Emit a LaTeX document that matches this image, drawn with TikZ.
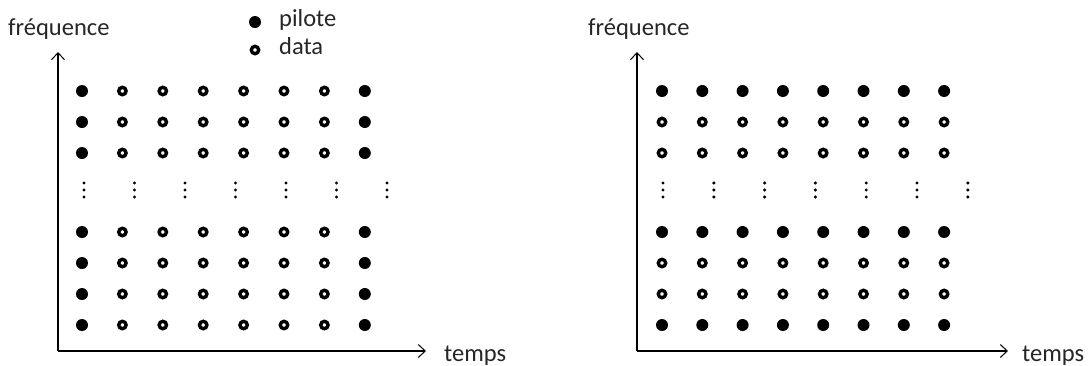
\documentclass[tikz,border=0pt]{standalone}
\usepackage{fontspec}
\setmainfont{Carlito}
\usetikzlibrary{arrows.meta}
\begin{document}
\begin{tikzpicture}[x=1pt,y=-1pt,
  pil/.style={circle,fill=black,inner sep=0pt,minimum size=12pt},
  dat/.style={circle,draw=black,line width=3.4pt,inner sep=0pt,minimum size=7.4pt},
  vd/.style={circle,fill=black,inner sep=0pt,minimum size=3.4pt},
  axis/.style={line width=1.1pt,-{Straight Barb[length=7pt,width=13pt,line width=1pt]}},
  lbl/.style={font=\fontsize{24.5}{27}\selectfont,inner sep=0pt,anchor=base west,text=black!85}]
\useasboundingbox (0,0) rectangle (1090,365);
% ---------- left panel ----------
\coordinate (oL) at (58,351);
\coordinate (yL) at (58,52);
\coordinate (xL) at (426,351);
\draw[axis] (oL) -- (yL);
\draw[axis] (oL) -- (xL);
\node[lbl] (fL) at (8,35) {fréquence};
\node[lbl] (tL) at (444,361) {temps};
% legend
\node[pil] (legP) at (255,22) {};
\node[lbl] (legPt) at (279,26) {pilote};
\node[dat] (legD) at (255,50) {};
\node[lbl] (legDt) at (279,54) {data};
% rows
\foreach \r/\y in {1/91,2/122,3/153,4/232,5/263,6/294,7/325}{
  \foreach \c in {0,...,7}{
    \pgfmathsetmacro{\xx}{82+40.4*\c}
    \ifnum\c=0 \node[pil] (L\r-\c) at (\xx,\y) {};
    \else\ifnum\c=7 \node[pil] (L\r-\c) at (\xx,\y) {};
    \else \node[dat] (L\r-\c) at (\xx,\y) {};
    \fi\fi
  }
}
\foreach \c in {0,...,6}{
  \pgfmathsetmacro{\xx}{84+50.5*\c}
  \node[vd] (LvA\c) at (\xx,183) {};
  \node[vd] (LvB\c) at (\xx,190) {};
  \node[vd] (LvC\c) at (\xx,197) {};
}
% ---------- right panel ----------
\coordinate (oR) at (637,351);
\coordinate (yR) at (637,52);
\coordinate (xR) at (1008,351);
\draw[axis] (oR) -- (yR);
\draw[axis] (oR) -- (xR);
\node[lbl] (fR) at (588,35) {fréquence};
\node[lbl] (tR) at (1022,361) {temps};
\foreach \r/\y/\s in {1/91/pil,2/122/dat,3/153/dat,4/232/pil,5/263/dat,6/294/dat,7/325/pil}{
  \foreach \c in {0,...,7}{
    \pgfmathsetmacro{\xx}{662+40.3*\c}
    \node[\s] (R\r-\c) at (\xx,\y) {};
  }
}
\foreach \c in {0,...,6}{
  \pgfmathsetmacro{\xx}{663+50.8*\c}
  \node[vd] (RvA\c) at (\xx,183) {};
  \node[vd] (RvB\c) at (\xx,190) {};
  \node[vd] (RvC\c) at (\xx,197) {};
}
\end{tikzpicture}
\end{document}
